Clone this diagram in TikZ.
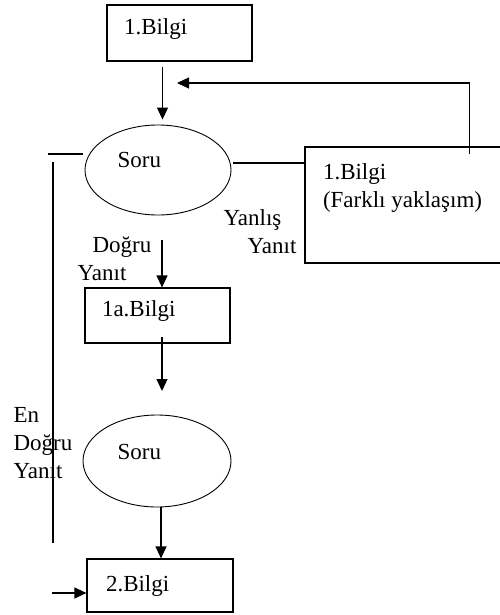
\documentclass[tikz,border=0pt]{standalone}
\usepackage{fontspec}
\setmainfont{Liberation Serif}
\usetikzlibrary{shapes.geometric, calc, arrows.meta, positioning}

\begin{document}
\begin{tikzpicture}[x=1pt, y=-1pt, >={Triangle[length=12pt, width=11pt]},
    line width=1.2pt, font=\fontsize{23}{28}\selectfont,
    bilgi/.style={draw, rectangle, inner sep=0pt},
    soru/.style={draw, ellipse, inner sep=0pt, line width=0.9pt},
    txt/.style={inner sep=0pt, align=left}]

    \useasboundingbox (0,0) rectangle (499,615);

    % kutular ve elipsler
    \node[bilgi, minimum width=145, minimum height=56] (bilgi1) at (179.5,33) {};
    \node[soru, minimum width=146, minimum height=90] (soru1) at (158,170) {};
    \node[bilgi, minimum width=225, minimum height=116] (fark) at (417.5,205) {};
    \node[bilgi, minimum width=145, minimum height=55] (bilgi1a) at (157.5,315.5) {};
    \node[soru, minimum width=148, minimum height=92] (soru2) at (157,461) {};
    \node[bilgi, minimum width=146, minimum height=53] (bilgi2) at (160,585.5) {};

    % yazilar
    \node[txt, anchor=base west] (bilgi1t) at ($(bilgi1.north west)+(17,30)$) {1.Bilgi};
    \node[txt, anchor=base west] (soru1t) at ($(soru1.center)+(-41,-3)$) {Soru};
    \node[txt, anchor=north west] (farkt) at ($(fark.north west)+(18,17)$) {1.Bilgi\\(Farklı yaklaşım)};
    \node[txt, anchor=base west] (bilgi1at) at ($(bilgi1a.north west)+(17,29)$) {1a.Bilgi};
    \node[txt, anchor=base west] (soru2t) at ($(soru2.center)+(-40,-2)$) {Soru};
    \node[txt, anchor=base west] (bilgi2t) at ($(bilgi2.north west)+(19,33)$) {2.Bilgi};

    \node[txt, anchor=north west] (yanlis) at (223,209) {Yanlış\\\hspace*{24pt}Yanıt};
    \node[txt, anchor=north west] (dogru) at (77,236) {\hspace*{15pt}Doğru\\Yanıt};
    \node[txt, anchor=north west] (endogru) at (13,407) {En\\Doğru\\Yanıt};

    % baglantilar
    \coordinate (a1) at ($(bilgi1.south)+(-17,5)$);
    \draw[->, shorten >=5pt] (a1) -- (a1 |- soru1.north);

    \coordinate (fb) at (177,83);
    \draw[->] ($(fark.north west)+(165,8)$) |- (fb);

    \draw ($(soru1.east)+(2,-7)$) coordinate (s1) -- (s1 -| fark.west);

    \draw ($(soru1.west)+(-37,-16)$) -- ($(soru1.west)+(-2,-16)$);
    \coordinate (enTop) at (53,162);
    \coordinate (enBot) at (53,543);
    \draw (enTop) -- (enBot);

    \coordinate (d1) at (162,240);
    \draw[->] (d1) -- (d1 |- bilgi1a.north);

    \coordinate (d2) at (162,337);
    \coordinate (d3) at (162,391);
    \draw[->] (d2) -- (d3);

    \coordinate (q2) at ($(soru2.south)+(4,0)$);
    \draw[->] (q2) -- (q2 |- bilgi2.north);

    \coordinate (in2) at (52,593);
    \draw[->] (in2) -- (in2 -| bilgi2.west);

\end{tikzpicture}
\end{document}
